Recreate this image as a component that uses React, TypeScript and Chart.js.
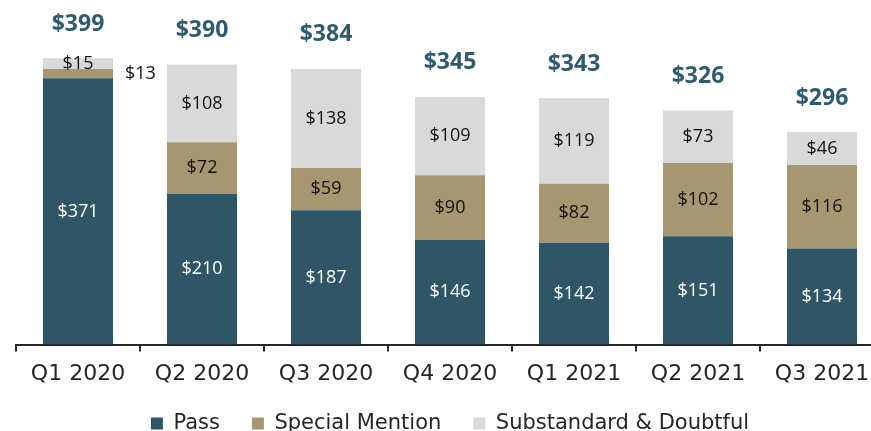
import React, { useEffect, useRef } from "react";
import { Chart, registerables } from "chart.js";

Chart.register(...registerables);

const categories = ["Q1 2020", "Q2 2020", "Q3 2020", "Q4 2020", "Q1 2021", "Q2 2021", "Q3 2021"];
const passValues = [371, 210, 187, 146, 142, 151, 134];
const specialMentionValues = [13, 72, 59, 90, 82, 102, 116];
const substandardValues = [15, 108, 138, 109, 119, 73, 46];
const seriesNames = ["Pass", "Special Mention", "Substandard & Doubtful"];

const PASS_COLOR = "#2F5666";
const SM_COLOR = "#A69770";
const SUB_COLOR = "#D9D9D9";
const TOTAL_COLOR = "#2E5B6E";

const LEGEND_PAD = 32;
const LEGEND_HEIGHT = 35;
const LEGEND_TOP = 381;

const legendPlugin = {
  id: "legendPlacement",
  beforeInit(chart: any) {
    const legend = chart.legend;
    if (!legend) return;
    const orig = legend.fit;
    legend.fit = function () {
      orig.call(this);
      this.height = LEGEND_HEIGHT;
    };
  },
  afterLayout(chart: any) {
    const legend = chart.legend;
    if (!legend) return;
    legend.top = LEGEND_TOP;
    legend.bottom = chart.height;
  },
};

const labelPlugin = {
  id: "segmentLabels",
  afterDatasetsDraw(chart: any) {
    const ctx = chart.ctx;
    ctx.save();
    ctx.textAlign = "center";
    ctx.textBaseline = "middle";
    const nDs = chart.data.datasets.length;
    chart.data.datasets.forEach((ds: any, di: number) => {
      const meta = chart.getDatasetMeta(di);
      meta.data.forEach((bar: any, i: number) => {
        const v = ds.data[i];
        const h = Math.abs(bar.base - bar.y);
        const cy = (bar.y + bar.base) / 2;
        ctx.font = "18px 'Open Sans'";
        ctx.fillStyle = di === 0 ? "#FFFFFF" : "#111111";
        if (h < 14 && di < nDs - 1) {
          ctx.textAlign = "left";
          ctx.fillStyle = "#111111";
          ctx.fillText("$" + v, bar.x + bar.width / 2 + 12, cy);
          ctx.textAlign = "center";
        } else {
          ctx.fillText("$" + v, bar.x, cy);
        }
      });
    });
    const topMeta = chart.getDatasetMeta(nDs - 1);
    ctx.font = "bold 23px 'Open Sans'";
    ctx.fillStyle = TOTAL_COLOR;
    topMeta.data.forEach((bar: any, i: number) => {
      const total = passValues[i] + specialMentionValues[i] + substandardValues[i];
      ctx.fillText("$" + total, bar.x, bar.y - 34);
    });
    ctx.restore();
  },
};

export default function App() {
  const ref = useRef<HTMLCanvasElement>(null);
  useEffect(() => {
    if (!ref.current) return;
    const chart = new Chart(ref.current, {
      type: "bar",
      data: {
        labels: categories,
        datasets: [
          { label: seriesNames[0], data: passValues, backgroundColor: PASS_COLOR },
          { label: seriesNames[1], data: specialMentionValues, backgroundColor: SM_COLOR },
          { label: seriesNames[2], data: substandardValues, backgroundColor: SUB_COLOR },
        ],
      },
      options: {
        animation: false,
        responsive: false,
        devicePixelRatio: 1,
        layout: { padding: { left: 16, right: 0, top: 0, bottom: 0 } },
        datasets: { bar: { categoryPercentage: 1, barPercentage: 0.565 } } as any,
        scales: {
          x: {
            stacked: true,
            grid: {
              display: true,
              drawOnChartArea: false,
              drawTicks: true,
              tickLength: 7,
              color: "#262626",
              lineWidth: 2,
              offset: true,
            },
            border: { display: true, color: "#262626", width: 2 },
            ticks: { color: "#262626", font: { family: "'DejaVu Sans'", size: 22 }, padding: 9 },
          },
          y: { stacked: true, display: false, min: 0, max: 480 },
        },
        plugins: {
          legend: {
            position: "bottom",
            labels: {
              color: "#262626",
              font: { family: "'DejaVu Sans'", size: 21 },
              boxWidth: 12,
              boxHeight: 12,
              padding: LEGEND_PAD,
            },
          },
          tooltip: { enabled: false },
        },
      },
      plugins: [legendPlugin, labelPlugin],
    });
    return () => chart.destroy();
  }, []);
  return (
    <div style={{ position: "fixed", left: 0, top: 0, width: 871, height: 431, overflow: "hidden", background: "#fff" }}>
      <canvas ref={ref} width={884} height={431} style={{ width: 884, height: 431, display: "block" }} />
    </div>
  );
}
